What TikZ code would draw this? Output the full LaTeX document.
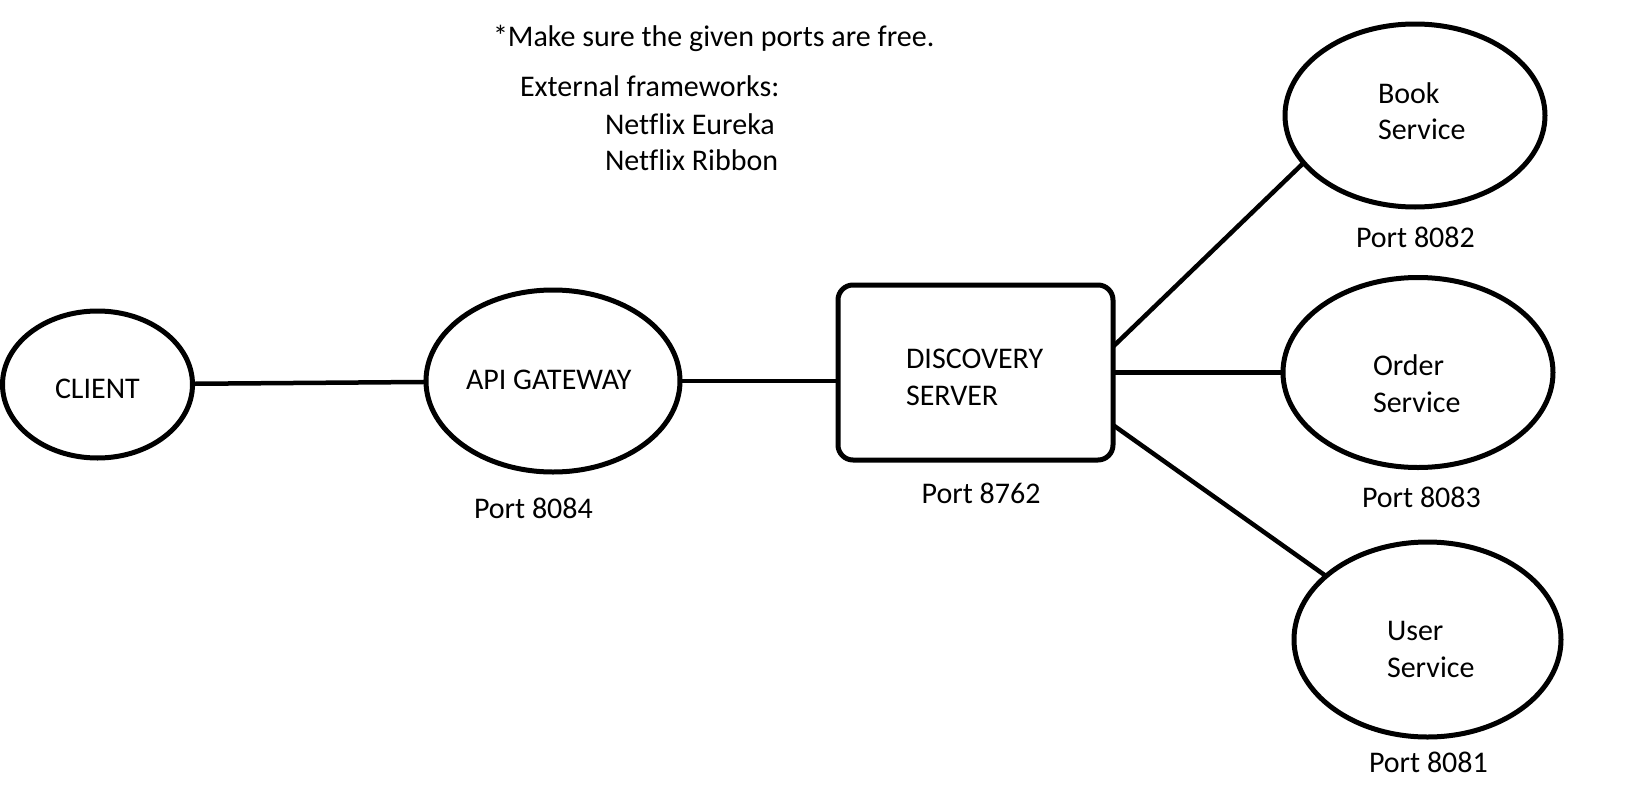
\documentclass[tikz,border=0pt]{standalone}
\usepackage{fontspec}
\setmainfont[Ligatures=NoCommon]{Carlito}
\usetikzlibrary{shapes.geometric}
\begin{document}
\begin{tikzpicture}[x=1pt,y=-1pt,
  every node/.style={font=\fontsize{30}{36}\selectfont},
  oval/.style={ellipse,draw,line width=5pt,inner sep=0pt,outer sep=0pt},
  boxnode/.style={rectangle,draw,line width=5pt,rounded corners=15pt,inner sep=0pt,outer sep=0pt},
  lbl/.style={anchor=base west,inner sep=0pt,outer sep=0pt},
  link/.style={line width=4.5pt}]
\path[use as bounding box,fill=white] (0,0) rectangle (1642,787);

% shapes
\node[oval,minimum width=190pt,minimum height=147pt] (client) at (97.5,384.5) {};
\node[oval,minimum width=254pt,minimum height=182pt] (api) at (553,381) {};
\node[boxnode,minimum width=275pt,minimum height=175pt] (disc) at (975.5,372.5) {};
\node[oval,minimum width=260pt,minimum height=183pt] (book) at (1415,115.5) {};
\node[oval,minimum width=270pt,minimum height=190pt] (order) at (1418,372.5) {};
\node[oval,minimum width=267pt,minimum height=195pt] (user) at (1427.5,639.5) {};

% connectors
\draw[link] (client) -- (api);
\draw[link] (api.east) -- (api.east -| disc.west);
\draw[link] ([yshift=25.8pt]disc.east) -- (book.203.8);
\draw[link] (order.west -| disc.east) -- (order.west);
\draw[link] ([yshift=-52.5pt]disc.east) -- (user.148.3);

% texts
\node[lbl] (note) at (493,46.7) {*Make sure the given ports are free.};
\node[lbl] (ext) at (520,96) {External frameworks:};
\node[lbl] (eureka) at (605,134) {Netflix Eureka};
\node[lbl] (ribbon) at (605,170) {Netflix Ribbon};

\node[lbl] (clientt) at (55,398) {CLIENT};
\node[lbl] (apit) at (466,389) {API GATEWAY};
\node[lbl] (p8084) at (474,518) {Port 8084};

\node[lbl] (disct1) at (906,368.3) {DISCOVERY};
\node[lbl] (disct2) at (906,405) {SERVER};
\node[lbl] (p8762) at (921.7,503.3) {Port 8762};

\node[lbl] (bookt1) at (1378,103) {Book};
\node[lbl] (bookt2) at (1378,139) {Service};
\node[lbl] (p8082) at (1356,247) {Port 8082};

\node[lbl] (ordert1) at (1373,375) {Order};
\node[lbl] (ordert2) at (1373,412) {Service};
\node[lbl] (p8083) at (1362,507) {Port 8083};

\node[lbl] (usert1) at (1387,640) {User};
\node[lbl] (usert2) at (1387,677) {Service};
\node[lbl] (p8081) at (1369,772) {Port 8081};
\end{tikzpicture}
\end{document}
